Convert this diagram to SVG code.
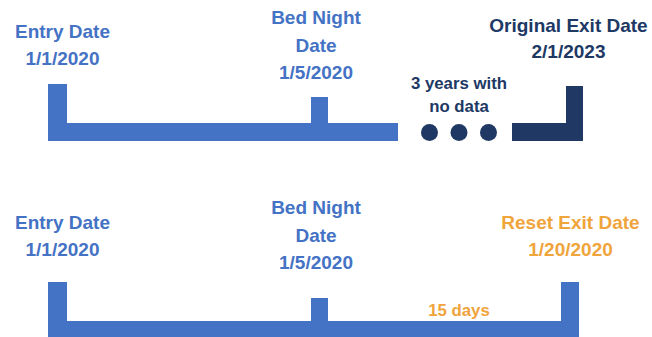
<svg xmlns="http://www.w3.org/2000/svg" width="652" height="337" viewBox="0 0 652 337">
<style>
text{font-family:"Liberation Sans",Arial,sans-serif;font-weight:bold;text-anchor:middle}
.lbl{font-size:19px}
.sm{font-size:16.8px}
.blue{fill:#4472C4}
.navy{fill:#203864}
.orange{fill:#F0A43C}
</style>
<rect width="652" height="337" fill="#fff"/>
<g id="timeline1">
  <g id="connectors1">
    <path class="blue" d="M48 84H67V123H311V97H328V123H398V141H48Z"/>
    <path class="navy" d="M512 123H566V86H583V141H512Z"/>
    <circle class="navy" cx="429.5" cy="132.5" r="8.5"/>
    <circle class="navy" cx="459" cy="132.5" r="8.5"/>
    <circle class="navy" cx="488.5" cy="132.5" r="8.5"/>
  </g>
  <g id="entry1"><text class="lbl blue" x="62.5" y="38">Entry Date</text><text class="lbl blue" x="62.5" y="65">1/1/2020</text></g>
  <g id="bednight1"><text class="lbl blue" x="316" y="24">Bed Night</text><text class="lbl blue" x="316" y="52">Date</text><text class="lbl blue" x="316" y="79">1/5/2020</text></g>
  <g id="nodata"><text class="sm navy" x="459" y="89">3 years with</text><text class="sm navy" x="459" y="112">no data</text></g>
  <g id="origexit"><text class="lbl navy" x="568.5" y="32">Original Exit Date</text><text class="lbl navy" x="568.5" y="58">2/1/2023</text></g>
</g>
<g id="timeline2">
  <g id="connectors2">
    <path class="blue" d="M48 282H67V321H311V298H328V321H561V282H579V340H48Z"/>
  </g>
  <g id="entry2"><text class="lbl blue" x="62.5" y="229">Entry Date</text><text class="lbl blue" x="62.5" y="256">1/1/2020</text></g>
  <g id="bednight2"><text class="lbl blue" x="316" y="214">Bed Night</text><text class="lbl blue" x="316" y="242">Date</text><text class="lbl blue" x="316" y="269">1/5/2020</text></g>
  <g id="days"><text class="sm orange" x="459" y="316">15 days</text></g>
  <g id="resetexit"><text class="lbl orange" x="570.5" y="229">Reset Exit Date</text><text class="lbl orange" x="570.5" y="256">1/20/2020</text></g>
</g>
</svg>
